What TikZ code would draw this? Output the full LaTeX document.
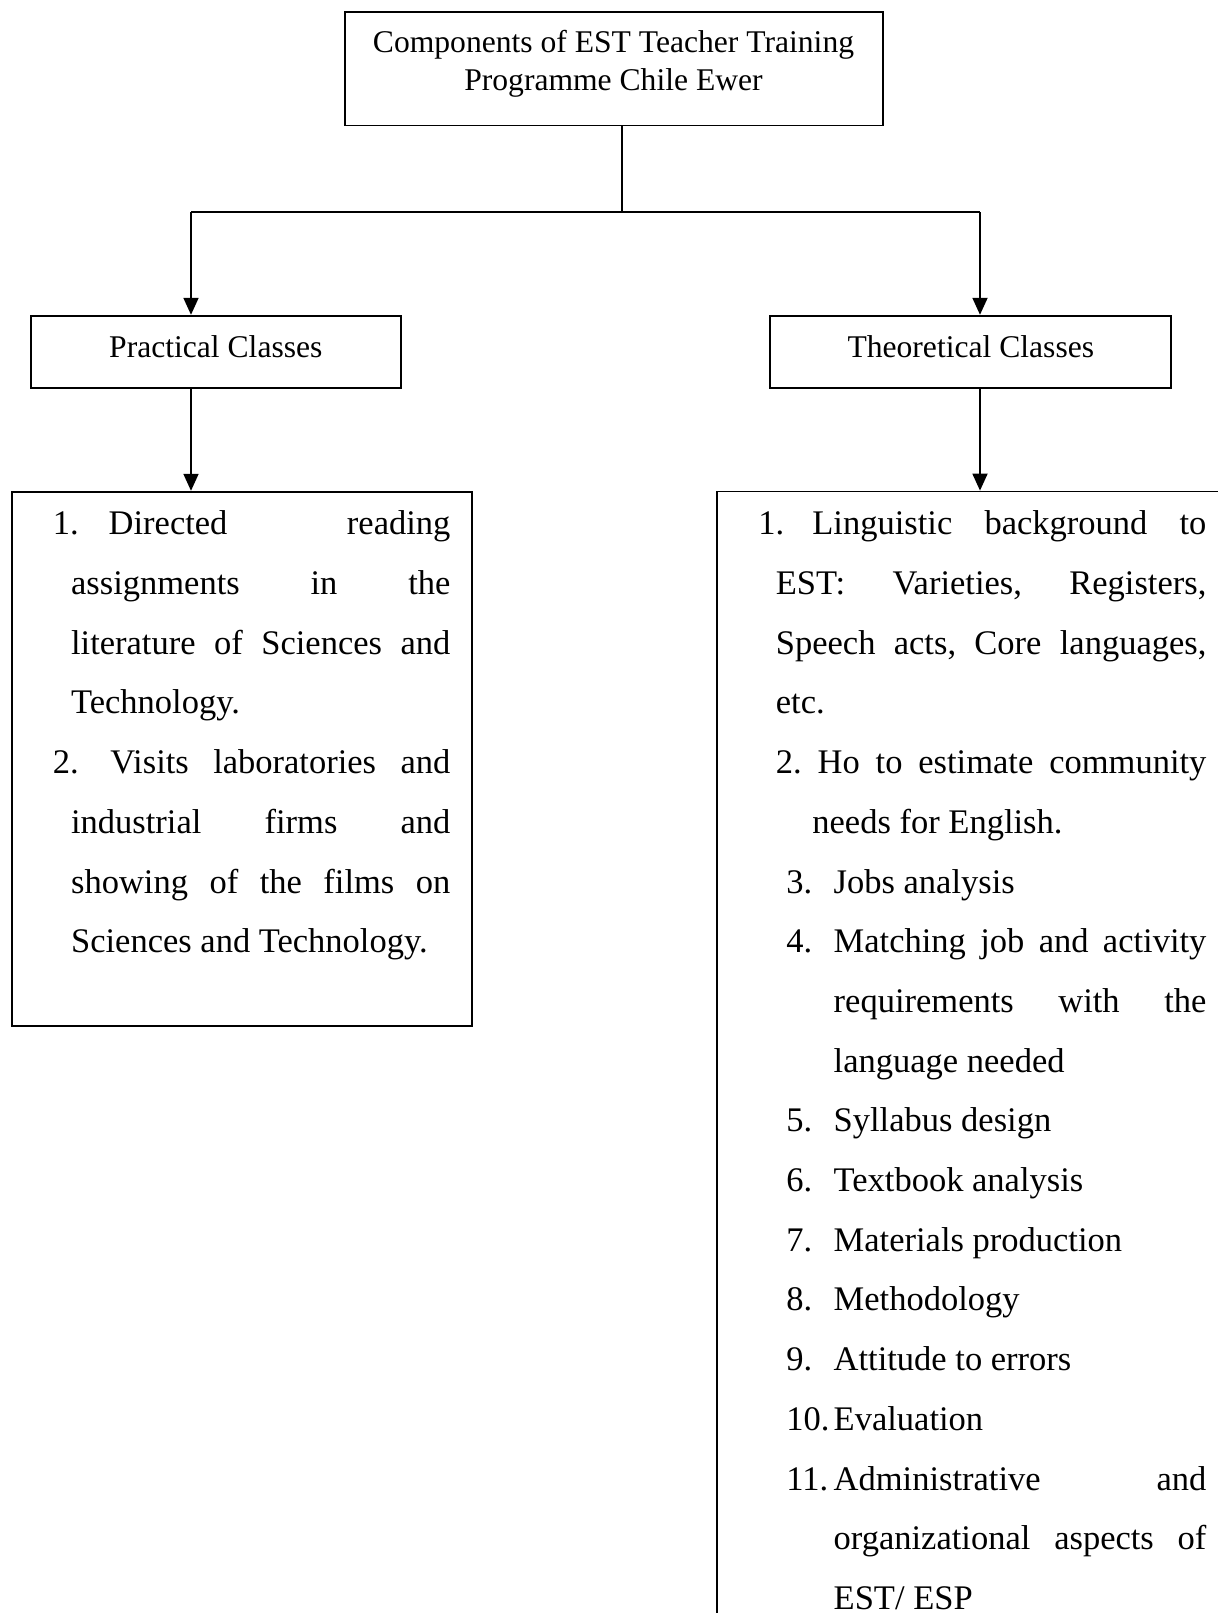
\documentclass[tikz,border=0pt]{standalone}
\usepackage{fontspec}
\setmainfont{Liberation Serif}
\usetikzlibrary{arrows.meta}
\newcommand\itemsize{\fontsize{17.25pt}{29.85pt}\selectfont}
\newcommand\headsize{\fontsize{15.8pt}{19pt}\selectfont}
\frenchspacing
\begin{document}
\begin{tikzpicture}[x=0.5pt,y=-0.5pt,
  box/.style={draw, line width=0.9pt, inner sep=0pt, rectangle},
  conn/.style={line width=0.9pt},
  arr/.style={conn, -{Triangle[width=7.5pt,length=8.5pt]}},
  hd/.style={anchor=base, inner sep=0pt, font=\headsize},
  ln/.style={anchor=base west, inner sep=0pt, font=\itemsize}]
\useasboundingbox (0,0) rectangle (1218,1613);
\clip (0,0) rectangle (1218,1613);

% boxes
\node[box, minimum width=269pt, minimum height=56.6pt] (top) at (613.6,68.9) {};
\node[box, minimum width=185.15pt, minimum height=36.3pt] (prac) at (215.8,352) {};
\node[box, minimum width=200.35pt, minimum height=36.3pt] (theo) at (970.3,352) {};
\node[box, minimum width=229.7pt, minimum height=267.15pt] (plist) at (242,758.85) {};
\node[box, minimum width=261.65pt, minimum height=574.25pt] (tlist) at (978.35,1065.75) {};

% box labels
\node[hd] (t1) at (613.5,52) {Components of EST Teacher Training};
\node[hd] (t2) at (613.5,90) {Programme Chile Ewer};
\node[hd] (pl) at (215.8,357) {Practical Classes};
\node[hd] (tl) at (970.8,357) {Theoretical Classes};

% connectors
\coordinate (j)  at (622,212);
\coordinate (jl) at (191,212);
\coordinate (jr) at (980,212);
\draw[conn] (j |- top.south) -- (j);
\draw[conn] (jl) -- (jr);
\draw[arr] (jl) -- (jl |- prac.north);
\draw[arr] (jr) -- (jr |- theo.north);
\draw[arr] (jl |- prac.south) -- (jl |- plist.north);
\draw[arr] (jr |- theo.south) -- (jr |- tlist.north);

% practical classes list
\node[ln] (pn1) at (52.5,534.8) {1.};
\node[ln] (pa1) at (108.3,534.8) {\makebox[170.85pt][s]{Directed reading}};
\node[ln] (pa2) at (70.7,594.5) {\makebox[189.65pt][s]{assignments in the}};
\node[ln] (pa3) at (70.7,654.2) {\makebox[189.65pt][s]{literature of Sciences and}};
\node[ln] (pa4) at (70.7,713.9) {Technology.};
\node[ln] (pn2) at (52.5,773.6) {2.};
\node[ln] (pb1) at (110,773.6) {\makebox[170pt][s]{Visits laboratories and}};
\node[ln] (pb2) at (70.7,833.3) {\makebox[189.65pt][s]{industrial firms and}};
\node[ln] (pb3) at (70.7,893.0) {\makebox[189.65pt][s]{showing of the films on}};
\node[ln] (pb4) at (70.7,952.7) {Sciences and Technology.};

% theoretical classes list
\node[ln] (tn1) at (758,534.8) {1.};
\node[ln] (ta1) at (812,534.8) {\makebox[197pt][s]{Linguistic background to}};
\node[ln] (ta2) at (775.5,594.5) {\makebox[215.25pt][s]{EST: Varieties, Registers,}};
\node[ln] (ta3) at (775.5,654.2) {\makebox[215.25pt][s]{Speech acts, Core languages,}};
\node[ln] (ta4) at (775.5,713.9) {etc.};
\node[ln] (tb1) at (775.5,773.6) {\makebox[215.25pt][s]{2. Ho to estimate community}};
\node[ln] (tb2) at (812,833.3) {needs for English.};
\node[ln] (tn3) at (786,893.0) {3.};
\node[ln] (tc1) at (833.3,893.0) {Jobs analysis};
\node[ln] (tn4) at (786,952.7) {4.};
\node[ln] (td1) at (833.3,952.7) {\makebox[186.35pt][s]{Matching job and activity}};
\node[ln] (td2) at (833.3,1012.4) {\makebox[186.35pt][s]{requirements with the}};
\node[ln] (td3) at (833.3,1072.1) {language needed};
\node[ln] (tn5) at (786,1131.8) {5.};
\node[ln] (te1) at (833.3,1131.8) {Syllabus design};
\node[ln] (tn6) at (786,1191.5) {6.};
\node[ln] (tf1) at (833.3,1191.5) {Textbook analysis};
\node[ln] (tn7) at (786,1251.2) {7.};
\node[ln] (tg1) at (833.3,1251.2) {Materials production};
\node[ln] (tn8) at (786,1310.9) {8.};
\node[ln] (th1) at (833.3,1310.9) {Methodology};
\node[ln] (tn9) at (786,1370.6) {9.};
\node[ln] (ti1) at (833.3,1370.6) {Attitude to errors};
\node[ln] (tn10) at (786,1430.3) {10.};
\node[ln] (tj1) at (833.3,1430.3) {Evaluation};
\node[ln] (tn11) at (786,1490.0) {11.};
\node[ln] (tk1) at (833.3,1490.0) {\makebox[186.35pt][s]{Administrative and}};
\node[ln] (tk2) at (833.3,1549.7) {\makebox[186.35pt][s]{organizational aspects of}};
\node[ln] (tk3) at (833.3,1609.4) {EST/ ESP};
\end{tikzpicture}
\end{document}
